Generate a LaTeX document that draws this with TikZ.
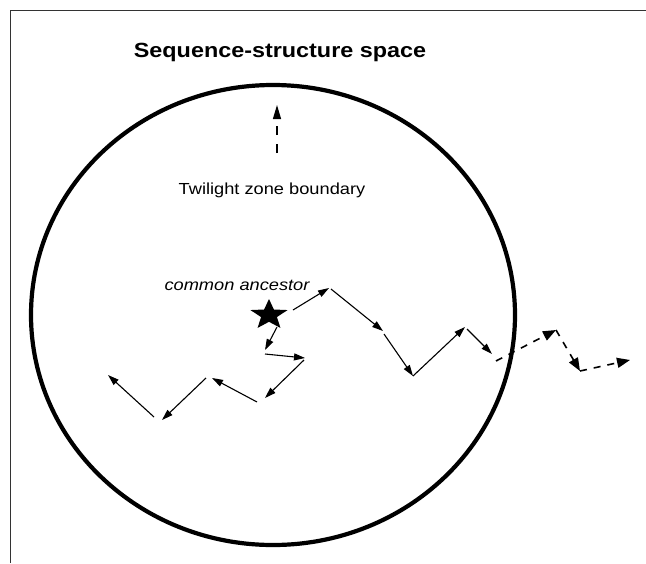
\documentclass[tikz,border=0pt]{standalone}
\usepackage{fontspec}
\setmainfont{Liberation Sans}
\usetikzlibrary{arrows.meta}
\begin{document}
\begin{tikzpicture}[x=1pt,y=-1pt,
  frameline/.style={line width=1.4pt,draw=black!80},
  zone/.style={line width=4.2pt,draw=black},
  walk/.style={line width=1.1pt,-{Triangle[length=11pt,width=7pt]}},
  dwalk/.style={line width=1.6pt,dash pattern=on 7pt off 7pt,-{Triangle[length=13pt,width=10pt]}},
  titletext/.style={anchor=base,font=\fontsize{20.5}{24}\selectfont\bfseries},
  labeltext/.style={anchor=base,font=\fontsize{16}{19}\selectfont},
]
\useasboundingbox (0,0) rectangle (646,563);
\fill[white] (0,0) rectangle (646,563);
% frame
\draw[frameline] (10.5,563) -- (10.5,10.5) -- (646,10.5);
% circle
\draw[zone] (273,315) ellipse [x radius=242, y radius=230];
% texts
\node[titletext] (title) at (280,57) {\scalebox{1.14}[1]{Sequence-structure space}};
\node[labeltext] (twilight) at (272,194) {\scalebox{1.14}[1]{Twilight zone boundary}};
\node[labeltext] (ancestor) at (237,290) {\scalebox{1.14}[1]{\itshape common ancestor}};
% boundary arrow
\coordinate (b0) at (277,153);
\coordinate (b1) at (277,105);
\draw[line width=1.2pt,dash pattern=on 9pt off 9pt,-{Triangle[length=14pt,width=8pt]}] (b0) -- (b1);
% star
\begin{scope}[shift={(269,315)},xscale=1.22,yscale=-1]
\fill (90:16) -- (126:6.8) -- (162:16) -- (198:6.8) -- (234:16) -- (270:6.8)
  -- (306:16) -- (342:6.8) -- (18:16) -- (54:6.8) -- cycle;
\end{scope}
% upper walk
\coordinate (s1) at (293,310); \coordinate (e1) at (329,288);
\coordinate (s2) at (331,289); \coordinate (e2) at (383,331);
\coordinate (s3) at (384,334); \coordinate (e3) at (413,376);
\coordinate (s4) at (413,376); \coordinate (e4) at (465,327);
\coordinate (s5) at (467,329); \coordinate (e5) at (492,354);
\draw[walk] (s1) -- (e1);
\draw[walk] (s2) -- (e2);
\draw[walk] (s3) -- (e3);
\draw[walk] (s4) -- (e4);
\draw[walk] (s5) -- (e5);
% dashed continuation
\coordinate (d1) at (496,361); \coordinate (d2) at (556,330);
\coordinate (d3) at (580,371); \coordinate (d4) at (630,360);
\draw[dwalk] (d1) -- (d2);
\draw[dwalk] (d2) -- (d3);
\draw[dwalk] (d3) -- (d4);
% lower walk
\coordinate (t1) at (277,327); \coordinate (f1) at (265,350);
\coordinate (t2) at (265,354); \coordinate (f2) at (305,358);
\coordinate (t3) at (304,360); \coordinate (f3) at (265,398);
\coordinate (t4) at (257,402); \coordinate (f4) at (212,378);
\coordinate (t5) at (206,378); \coordinate (f5) at (162,420);
\coordinate (t6) at (154,417); \coordinate (f6) at (108,375);
\draw[walk] (t1) -- (f1);
\draw[walk] (t2) -- (f2);
\draw[walk] (t3) -- (f3);
\draw[walk] (t4) -- (f4);
\draw[walk] (t5) -- (f5);
\draw[walk] (t6) -- (f6);
\end{tikzpicture}
\end{document}
